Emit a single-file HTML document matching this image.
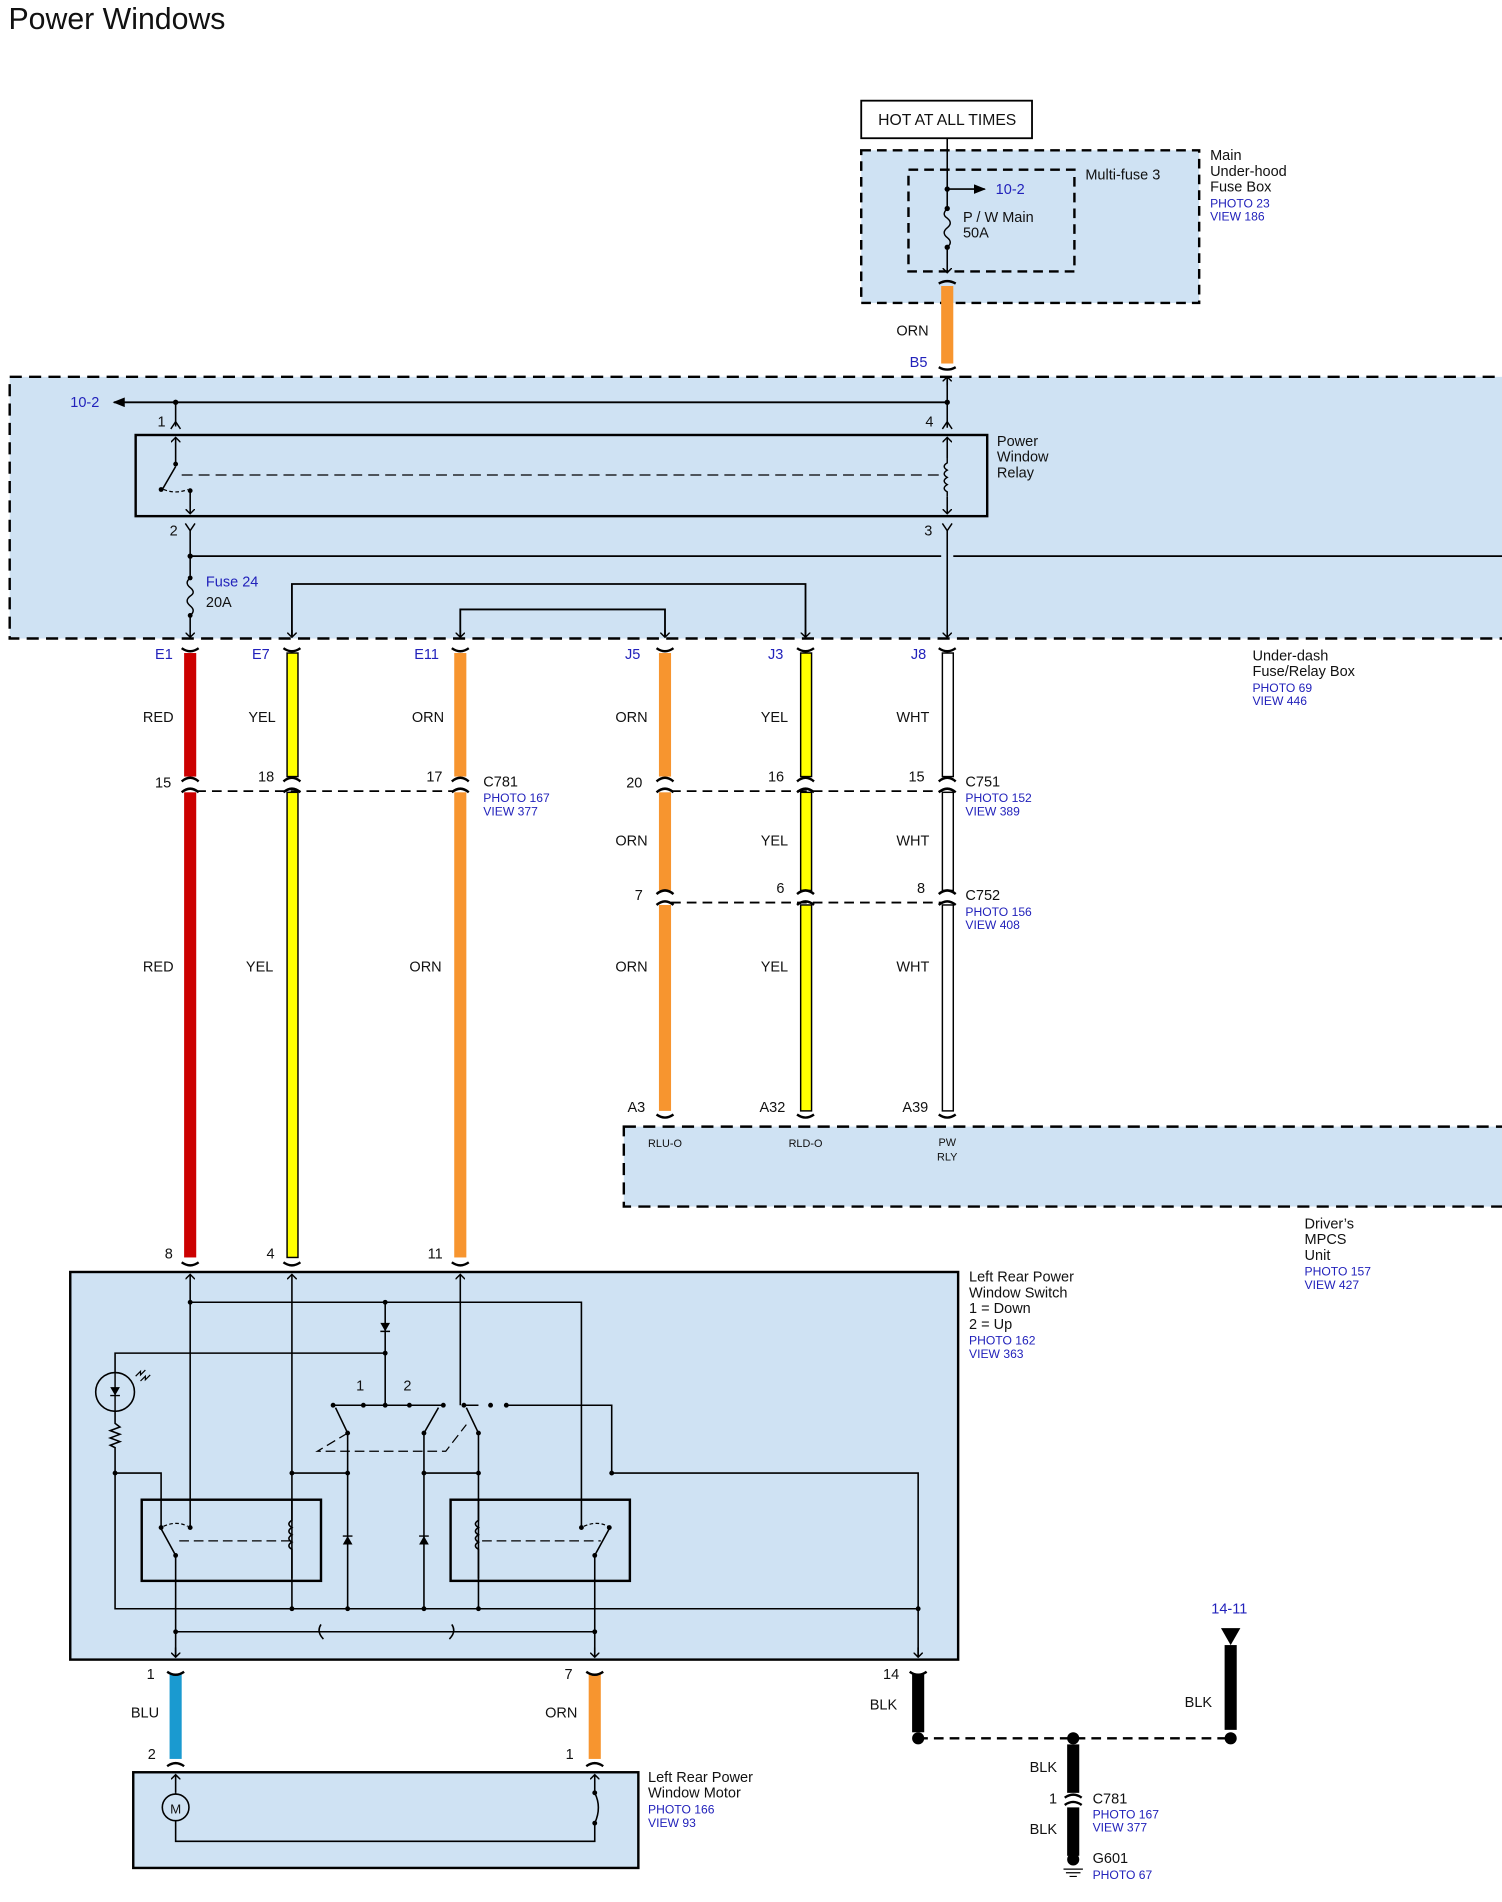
<!DOCTYPE html>
<html><head><meta charset="utf-8"><style>
html,body{margin:0;padding:0;background:#fff}
svg{display:block}
text{font-family:"Liberation Sans",Arial,sans-serif;font-size:12px;fill:#111}
.b{fill:#2222bb;font-size:10px}
.bl{fill:#2222bb;font-size:12px}
.s{font-size:9px}
</style></head><body>
<svg width="1502" height="1902" viewBox="0 0 1240 1570" xmlns="http://www.w3.org/2000/svg">
<defs>
<marker id="ar" markerWidth="8" markerHeight="8" refX="4" refY="4" orient="auto" markerUnits="userSpaceOnUse"><path d="M0,0 L4,4 L0,8" fill="none" stroke="#000" stroke-width="1.2"/></marker>
<marker id="af" markerWidth="10" markerHeight="8" refX="9" refY="4" orient="auto" markerUnits="userSpaceOnUse"><path d="M0,0 L10,4 L0,8z" fill="#000"/></marker>
</defs>
<text x="7" y="24" style="font-size:25px">Power Windows</text>

<!-- Hot box -->
<rect x="711" y="83" width="141" height="31" fill="#fff" stroke="#000" stroke-width="1.5"/>
<text x="782" y="103" text-anchor="middle" style="font-size:13px">HOT AT ALL TIMES</text>
<rect x="711" y="124" width="279" height="126" fill="#cfe2f3" stroke="#000" stroke-width="2" stroke-dasharray="8,5"/>
<rect x="750" y="140" width="137" height="84" fill="none" stroke="#000" stroke-width="2" stroke-dasharray="8,5"/>
<line x1="782" y1="114" x2="782" y2="172" stroke="#000" stroke-width="1.3"/>
<line x1="782" y1="156" x2="813" y2="156" stroke="#000" stroke-width="1.3" marker-end="url(#af)"/>
<circle cx="782" cy="156" r="2.2"/>
<text x="822" y="160" class="bl">10-2</text>
<circle cx="782" cy="172" r="2.2"/><circle cx="782" cy="204" r="2.2"/>
<path d="M782,172 q-5,5 0,8 q5,4 0,8 q-5,4 0,8 q5,4 0,8" fill="none" stroke="#000" stroke-width="1.2"/>
<line x1="782" y1="204" x2="782" y2="225" stroke="#000" stroke-width="1.3" marker-end="url(#ar)"/>
<text x="795" y="183">P / W Main</text><text x="795" y="196">50A</text>
<text x="896" y="148">Multi-fuse 3</text>
<text x="999" y="132">Main</text><text x="999" y="145">Under-hood</text><text x="999" y="158">Fuse Box</text>
<text x="999" y="171" class="b">PHOTO 23</text><text x="999" y="182" class="b">VIEW 186</text>
<rect x="777" y="236" width="10" height="64" fill="#f7952f"/>
<path d="M775,234 q7,-4 14,0 M775,303 q7,4 14,0" fill="none" stroke="#000" stroke-width="2"/>
<text x="740" y="277">ORN</text><text x="751" y="303" class="bl">B5</text>

<!-- Under-dash box -->
<rect x="8" y="311" width="1240" height="216" fill="#cfe2f3" stroke="#000" stroke-width="2" stroke-dasharray="10,6"/>
<line x1="782" y1="318" x2="782" y2="311" stroke="#000" stroke-width="1.3" marker-end="url(#ar)"/>
<line x1="782" y1="311" x2="782" y2="353" stroke="#000" stroke-width="1.3"/>
<line x1="782" y1="332" x2="94" y2="332" stroke="#000" stroke-width="1.5" marker-end="url(#af)"/>
<text x="58" y="336" class="bl">10-2</text>
<circle cx="145" cy="332" r="2.2"/><circle cx="782" cy="332" r="2.2"/>
<line x1="145" y1="332" x2="145" y2="352" stroke="#000" stroke-width="1.3"/>
<path d="M141,354 l4,-6 l4,6 M778,354 l4,-6 l4,6" fill="none" stroke="#000" stroke-width="1.2"/>
<text x="130" y="352">1</text><text x="764" y="352">4</text>
<rect x="112" y="359" width="703" height="67" fill="none" stroke="#000" stroke-width="2"/>
<text x="823" y="368">Power</text><text x="823" y="381">Window</text><text x="823" y="394">Relay</text>
<line x1="145" y1="378" x2="145" y2="361" stroke="#000" stroke-width="1.3" marker-end="url(#ar)"/>
<line x1="145" y1="378" x2="145" y2="383" stroke="#000" stroke-width="1.3"/>
<circle cx="145" cy="383" r="2"/>
<line x1="145" y1="385" x2="134" y2="404" stroke="#000" stroke-width="1.3"/>
<circle cx="133" cy="404" r="2"/><circle cx="157" cy="405" r="2"/>
<path d="M135,404 q10,4 20,0" fill="none" stroke="#000" stroke-width="1" stroke-dasharray="3,2"/>
<line x1="157" y1="405" x2="157" y2="424" stroke="#000" stroke-width="1.3" marker-end="url(#ar)"/>
<line x1="150" y1="392" x2="780" y2="392" stroke="#000" stroke-width="1" stroke-dasharray="9,5"/>
<line x1="782" y1="378" x2="782" y2="361" stroke="#000" stroke-width="1.3" marker-end="url(#ar)"/>
<path d="M782,378 v4 q-5,3 0,6 q-5,3 0,6 q-5,3 0,6 q-5,3 0,6 v4" fill="none" stroke="#000" stroke-width="1.2"/>
<line x1="782" y1="410" x2="782" y2="424" stroke="#000" stroke-width="1.3" marker-end="url(#ar)"/>
<path d="M153,432 l4,6 l4,-6 M778,432 l4,6 l4,-6" fill="none" stroke="#000" stroke-width="1.2"/>
<text x="140" y="442">2</text><text x="763" y="442">3</text>
<line x1="157" y1="438" x2="157" y2="475" stroke="#000" stroke-width="1.3"/>
<line x1="157" y1="459" x2="777" y2="459" stroke="#000" stroke-width="1.5"/>
<line x1="787" y1="459" x2="1240" y2="459" stroke="#000" stroke-width="1.5"/>
<circle cx="157" cy="459" r="2.2"/>
<circle cx="157" cy="477" r="2"/><circle cx="157" cy="508" r="2"/>
<path d="M157,477 q-5,4 0,8 q5,4 0,7 q-5,4 0,8 q5,4 0,8" fill="none" stroke="#000" stroke-width="1.2"/>
<line x1="157" y1="508" x2="157" y2="526" stroke="#000" stroke-width="1.3" marker-end="url(#ar)"/>
<text x="170" y="484" class="bl">Fuse 24</text><text x="170" y="501">20A</text>
<line x1="782" y1="438" x2="782" y2="526" stroke="#000" stroke-width="1.3" marker-end="url(#ar)"/>
<path d="M241,526 V482 H665 V526" fill="none" stroke="#000" stroke-width="1.5"/>
<path d="M380,526 V503 H549 V526" fill="none" stroke="#000" stroke-width="1.5"/>
<line x1="241" y1="520" x2="241" y2="526" stroke="#000" stroke-width="1.3" marker-end="url(#ar)"/>
<line x1="665" y1="520" x2="665" y2="526" stroke="#000" stroke-width="1.3" marker-end="url(#ar)"/>
<line x1="380" y1="520" x2="380" y2="526" stroke="#000" stroke-width="1.3" marker-end="url(#ar)"/>
<line x1="549" y1="520" x2="549" y2="526" stroke="#000" stroke-width="1.3" marker-end="url(#ar)"/>
<text x="1034" y="545">Under-dash</text><text x="1034" y="558">Fuse/Relay Box</text>
<text x="1034" y="571" class="b">PHOTO 69</text><text x="1034" y="582" class="b">VIEW 446</text>

<!-- wires -->
<g stroke="#000" stroke-width="1.2">
<rect x="152" y="539" width="10" height="102" fill="#cc0000" stroke="none"/>
<rect x="152" y="654" width="10" height="384" fill="#cc0000" stroke="none"/>
<rect x="237" y="539" width="9" height="102" fill="#ffff00"/>
<rect x="237" y="654" width="9" height="384" fill="#ffff00"/>
<rect x="375" y="539" width="10" height="102" fill="#f7952f" stroke="none"/>
<rect x="375" y="654" width="10" height="384" fill="#f7952f" stroke="none"/>
<rect x="544" y="539" width="10" height="102" fill="#f7952f" stroke="none"/>
<rect x="544" y="654" width="10" height="81" fill="#f7952f" stroke="none"/>
<rect x="544" y="747" width="10" height="170" fill="#f7952f" stroke="none"/>
<rect x="661" y="539" width="9" height="102" fill="#ffff00"/>
<rect x="661" y="654" width="9" height="81" fill="#ffff00"/>
<rect x="661" y="747" width="9" height="170" fill="#ffff00"/>
<rect x="778" y="539" width="9" height="102" fill="#fff"/>
<rect x="778" y="654" width="9" height="81" fill="#fff"/>
<rect x="778" y="747" width="9" height="170" fill="#fff"/>
</g>
<g fill="none" stroke="#000" stroke-width="2">
<path d="M150,535 q7,5 14,0 M234,535 q7,5 14,0 M373,535 q7,5 14,0 M542,535 q7,5 14,0 M658,535 q7,5 14,0 M775,535 q7,5 14,0"/>
<path d="M150,645 q7,-6 14,0 M150,654 q7,-6 14,0 M234,645 q7,-6 14,0 M234,654 q7,-6 14,0 M373,645 q7,-6 14,0 M373,654 q7,-6 14,0 M542,645 q7,-6 14,0 M542,654 q7,-6 14,0 M658,645 q7,-6 14,0 M658,654 q7,-6 14,0 M775,645 q7,-6 14,0 M775,654 q7,-6 14,0"/>
<path d="M542,738 q7,-6 14,0 M542,747 q7,-6 14,0 M658,738 q7,-6 14,0 M658,747 q7,-6 14,0 M775,738 q7,-6 14,0 M775,747 q7,-6 14,0"/>
<path d="M542,920 q7,5 14,0 M658,920 q7,5 14,0 M775,920 q7,5 14,0"/>
<path d="M150,1042 q7,5 14,0 M234,1042 q7,5 14,0 M373,1042 q7,5 14,0"/>
</g>
<g stroke="#000" stroke-width="1.5" stroke-dasharray="8,5">
<line x1="162" y1="653" x2="375" y2="653"/><line x1="554" y1="653" x2="778" y2="653"/><line x1="554" y1="745" x2="778" y2="745"/>
</g>
<text x="128" y="544" class="bl">E1</text><text x="208" y="544" class="bl">E7</text><text x="342" y="544" class="bl">E11</text>
<text x="516" y="544" class="bl">J5</text><text x="634" y="544" class="bl">J3</text><text x="752" y="544" class="bl">J8</text>
<text x="118" y="596">RED</text><text x="205" y="596">YEL</text><text x="340" y="596">ORN</text>
<text x="508" y="596">ORN</text><text x="628" y="596">YEL</text><text x="740" y="596">WHT</text>
<text x="128" y="650">15</text><text x="213" y="645">18</text><text x="352" y="645">17</text>
<text x="517" y="650">20</text><text x="634" y="645">16</text><text x="750" y="645">15</text>
<text x="399" y="649">C781</text><text x="399" y="662" class="b">PHOTO 167</text><text x="399" y="673" class="b">VIEW 377</text>
<text x="797" y="649">C751</text><text x="797" y="662" class="b">PHOTO 152</text><text x="797" y="673" class="b">VIEW 389</text>
<text x="508" y="698">ORN</text><text x="628" y="698">YEL</text><text x="740" y="698">WHT</text>
<text x="524" y="743">7</text><text x="641" y="737">6</text><text x="757" y="737">8</text>
<text x="797" y="743">C752</text><text x="797" y="756" class="b">PHOTO 156</text><text x="797" y="767" class="b">VIEW 408</text>
<text x="118" y="802">RED</text><text x="203" y="802">YEL</text><text x="338" y="802">ORN</text>
<text x="508" y="802">ORN</text><text x="628" y="802">YEL</text><text x="740" y="802">WHT</text>
<text x="518" y="918">A3</text><text x="627" y="918">A32</text><text x="745" y="918">A39</text>

<rect x="515" y="930" width="730" height="66" fill="#cfe2f3" stroke="#000" stroke-width="2" stroke-dasharray="10,6"/>
<text x="549" y="947" text-anchor="middle" class="s">RLU-O</text><text x="665" y="947" text-anchor="middle" class="s">RLD-O</text>
<text x="782" y="946" text-anchor="middle" class="s">PW</text><text x="782" y="958" text-anchor="middle" class="s">RLY</text>
<text x="1077" y="1014">Driver’s</text><text x="1077" y="1027">MPCS</text><text x="1077" y="1040">Unit</text>
<text x="1077" y="1053" class="b">PHOTO 157</text><text x="1077" y="1064" class="b">VIEW 427</text>

<text x="136" y="1039">8</text><text x="220" y="1039">4</text><text x="353" y="1039">11</text>

<!-- Switch box -->
<rect x="58" y="1050" width="733" height="320" fill="#cfe2f3" stroke="#000" stroke-width="2"/>
<text x="800" y="1058">Left Rear Power</text><text x="800" y="1071">Window Switch</text>
<text x="800" y="1084">1 = Down</text><text x="800" y="1097">2 = Up</text>
<text x="800" y="1110" class="b">PHOTO 162</text><text x="800" y="1121" class="b">VIEW 363</text>
<g stroke="#000" stroke-width="1.3" fill="none">
<line x1="157" y1="1260" x2="157" y2="1052" marker-end="url(#ar)"/>
<line x1="241" y1="1328" x2="241" y2="1052" marker-end="url(#ar)"/>
<line x1="380" y1="1160" x2="380" y2="1052" marker-end="url(#ar)"/>
<path d="M157,1075 H480 V1260"/>
<path d="M318,1075 V1160"/>
<path d="M95,1133 V1117 H318"/>
<circle cx="95" cy="1149" r="16"/>
<path d="M95,1165 V1175 l4,3 l-8,3 l8,3 l-8,3 l8,3 l-8,3 l4,2 V1328 H758"/>
<path d="M95,1216 H133 V1260"/>
<path d="M241,1216 H287"/>
<path d="M350,1216 H395"/>
<path d="M287,1183 V1328 M350,1183 V1328 M395,1183 V1328"/>
<path d="M275,1160 H366 M383,1160 H395 M418,1160 H505 V1216 H758 V1368"/>
<path d="M145,1284 V1368 M491,1284 V1368"/>
<path d="M145,1347 H491"/>
<rect x="117" y="1238" width="148" height="67" stroke-width="2"/>
<rect x="372" y="1238" width="148" height="67" stroke-width="2"/>
<path d="M241,1238 v17 q-5,3 0,6 q-5,3 0,6 q-5,3 0,6 q-5,3 0,6 v24"/>
<path d="M395,1238 v17 q-5,3 0,6 q-5,3 0,6 q-5,3 0,6 q-5,3 0,6 v24"/>
<path d="M145,1284 L133,1262 M491,1284 L503,1262"/>
<path d="M135,1260 q11,-5 20,0 M482,1260 q11,-5 20,0" stroke-dasharray="3,2" stroke-width="1"/>
<path d="M148,1272 H239 M398,1272 H496" stroke-dasharray="8,4" stroke-width="1"/>
<path d="M287,1183 L277,1162 M350,1183 L362,1162 M395,1183 L385,1162" />
<path d="M287,1183 L262,1198 H368 L385,1176" stroke-dasharray="8,4" stroke-width="1"/>
<path d="M265,1341 q-4,6 2,12 M373,1341 q4,6 -2,12"/>
<line x1="145" y1="1360" x2="145" y2="1368" marker-end="url(#ar)"/>
<line x1="491" y1="1360" x2="491" y2="1368" marker-end="url(#ar)"/>
<line x1="758" y1="1360" x2="758" y2="1368" marker-end="url(#ar)"/>
</g>
<g fill="#000">
<circle cx="157" cy="1075" r="2"/><circle cx="318" cy="1075" r="2"/><circle cx="318" cy="1117" r="2"/>
<circle cx="275" cy="1160" r="2"/><circle cx="300" cy="1160" r="2"/><circle cx="318" cy="1160" r="2"/><circle cx="338" cy="1160" r="2"/><circle cx="366" cy="1160" r="2"/><circle cx="383" cy="1160" r="2"/><circle cx="405" cy="1160" r="2"/><circle cx="418" cy="1160" r="2"/>
<circle cx="287" cy="1183" r="2"/><circle cx="350" cy="1183" r="2"/><circle cx="395" cy="1183" r="2"/>
<circle cx="95" cy="1216" r="2"/><circle cx="241" cy="1216" r="2"/><circle cx="287" cy="1216" r="2"/><circle cx="350" cy="1216" r="2"/><circle cx="395" cy="1216" r="2"/><circle cx="505" cy="1216" r="2"/>
<circle cx="133" cy="1261" r="2"/><circle cx="157" cy="1261" r="2"/><circle cx="145" cy="1284" r="2"/>
<circle cx="480" cy="1261" r="2"/><circle cx="503" cy="1261" r="2"/><circle cx="491" cy="1284" r="2"/>
<circle cx="241" cy="1328" r="2"/><circle cx="287" cy="1328" r="2"/><circle cx="350" cy="1328" r="2"/><circle cx="395" cy="1328" r="2"/><circle cx="758" cy="1328" r="2"/>
<circle cx="145" cy="1347" r="2"/><circle cx="491" cy="1347" r="2"/>
<path d="M314,1092 h8 l-4,7z M283,1275 h8 l-4,-7z M346,1275 h8 l-4,-7z M91,1145 h8 l-4,7z"/>
</g>
<path d="M314,1099 h8 M283,1268 h8 M346,1268 h8 M91,1152 h8 M95,1133 V1165" stroke="#000" stroke-width="1.2"/>
<path d="M112,1136 l4,-4 l0,3 l4,-4 M116,1140 l4,-4 l0,3 l4,-4" stroke="#000" stroke-width="1" fill="none"/>
<text x="294" y="1148">1</text><text x="333" y="1148">2</text>

<!-- below switch -->
<rect x="140" y="1382" width="10" height="70" fill="#1a9ad0"/>
<rect x="486" y="1382" width="10" height="70" fill="#f7952f"/>
<rect x="753" y="1382" width="10" height="48" fill="#000"/>
<g fill="none" stroke="#000" stroke-width="2">
<path d="M138,1380 q7,5 14,0 M484,1380 q7,5 14,0 M751,1380 q7,5 14,0"/>
<path d="M138,1458 q7,-5 14,0 M484,1458 q7,-5 14,0"/>
</g>
<text x="121" y="1386">1</text><text x="466" y="1386">7</text><text x="729" y="1386">14</text>
<text x="108" y="1418">BLU</text><text x="450" y="1418">ORN</text><text x="718" y="1411">BLK</text>
<text x="122" y="1452">2</text><text x="467" y="1452">1</text>
<rect x="110" y="1463" width="417" height="79" fill="#cfe2f3" stroke="#000" stroke-width="2"/>
<text x="535" y="1471">Left Rear Power</text><text x="535" y="1484">Window Motor</text>
<text x="535" y="1497" class="b">PHOTO 166</text><text x="535" y="1508" class="b">VIEW 93</text>
<g stroke="#000" stroke-width="1.3" fill="none">
<line x1="145" y1="1480" x2="145" y2="1465" marker-end="url(#ar)"/>
<path d="M145,1480 V1520 H491 V1505"/>
<circle cx="145" cy="1492" r="11" fill="#cfe2f3"/>
<line x1="491" y1="1480" x2="491" y2="1465" marker-end="url(#ar)"/>
<path d="M491,1480 q6,12 0,25"/>
</g>
<text x="145" y="1497" text-anchor="middle" style="font-size:11px">M</text>
<circle cx="491" cy="1480" r="2"/><circle cx="491" cy="1505" r="2"/>

<!-- ground -->
<line x1="758" y1="1435" x2="1016" y2="1435" stroke="#000" stroke-width="2" stroke-dasharray="8,5"/>
<circle cx="758" cy="1435" r="5"/><circle cx="886" cy="1435" r="5"/><circle cx="1016" cy="1435" r="5"/>
<text x="1000" y="1332" class="bl">14-11</text>
<path d="M1008,1344 h16 l-8,14z" fill="#000"/>
<rect x="1011" y="1358" width="10" height="70" fill="#000"/>
<text x="978" y="1409">BLK</text>
<rect x="881" y="1440" width="10" height="40" fill="#000"/>
<rect x="881" y="1492" width="10" height="40" fill="#000"/>
<path d="M879,1484 q7,-5 14,0 M879,1490 q7,-5 14,0" fill="none" stroke="#000" stroke-width="2"/>
<text x="850" y="1463">BLK</text><text x="866" y="1489">1</text>
<text x="902" y="1489">C781</text><text x="902" y="1501" class="b">PHOTO 167</text><text x="902" y="1512" class="b">VIEW 377</text>
<text x="850" y="1514">BLK</text>
<circle cx="886" cy="1535" r="5"/>
<path d="M878,1543 h16 M880,1546 h12 M883,1549 h6" stroke="#000" stroke-width="1"/>
<text x="902" y="1538">G601</text><text x="902" y="1551" class="b">PHOTO 67</text>
</svg>
</body></html>
